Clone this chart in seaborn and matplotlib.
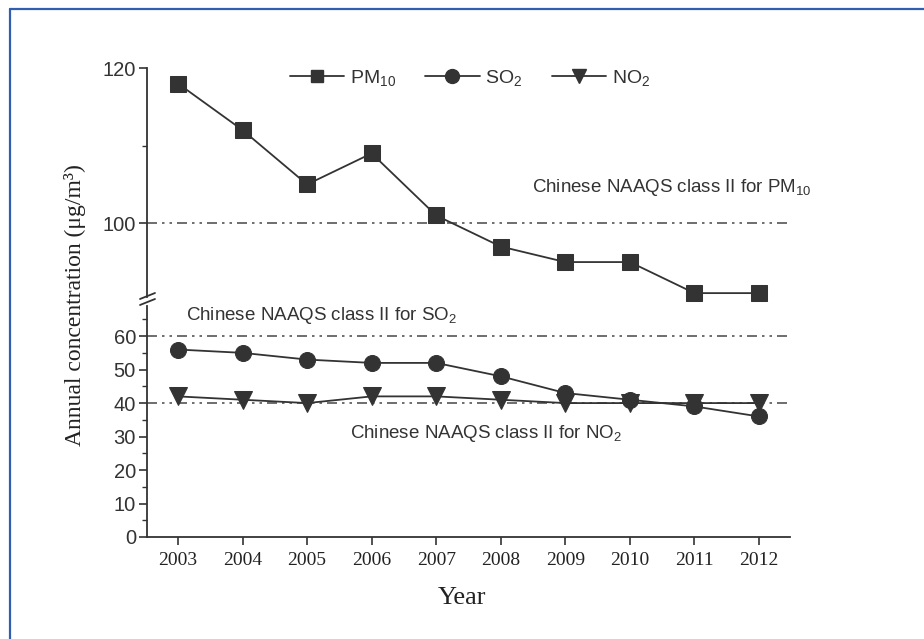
import matplotlib
matplotlib.use("Agg")
import matplotlib.pyplot as plt
from matplotlib.lines import Line2D
import numpy as np
import pandas as pd
import seaborn as sns

years = [2003, 2004, 2005, 2006, 2007, 2008, 2009, 2010, 2011, 2012]
pm10 = [118, 112, 105, 109, 101, 97, 95, 95, 91, 91]
so2 = [56, 55, 53, 52, 52, 48, 43, 41, 39, 36]
no2 = [42, 41, 40, 42, 42, 41, 40, 40, 40, 40]
std_pm10 = 100
std_so2 = 60
std_no2 = 40
upper_ticks = [100, 120]
lower_ticks = [0, 10, 20, 30, 40, 50, 60]

sns.set_theme(style="white")
plt.rcParams['font.family'] = ['Liberation Sans Narrow', 'Liberation Sans', 'DejaVu Sans']
plt.rcParams['mathtext.fontset'] = 'custom'
plt.rcParams['mathtext.rm'] = 'Liberation Sans'
plt.rcParams['mathtext.it'] = 'Liberation Sans'
plt.rcParams['mathtext.default'] = 'rm'

W, H = 924, 639
fig = plt.figure(figsize=(W / 100, H / 100), dpi=100)

def fx(px):
    return px / W

def fy(py):
    return 1 - py / H

left, right = 147, 790
ax_top = fig.add_axes([fx(left), fy(297), fx(right - left), fy(68) - fy(297)])
ax_bot = fig.add_axes([fx(left), fy(537), fx(right - left), fy(306) - fy(537)])

ink = "#333333"
xlim = (2002.52, 2012.48)

df = pd.DataFrame({"year": years, "PM10": pm10, "SO2": so2, "NO2": no2})

sns.lineplot(data=df, x="year", y="PM10", ax=ax_top, color=ink, lw=1.3,
             marker="s", markersize=11.5, markeredgecolor=ink, markerfacecolor=ink)
sns.lineplot(data=df, x="year", y="SO2", ax=ax_bot, color=ink, lw=1.3,
             marker="o", markersize=11.5, markeredgecolor=ink, markerfacecolor=ink)
sns.lineplot(data=df, x="year", y="NO2", ax=ax_bot, color=ink, lw=1.3,
             marker="v", markersize=12.5, markeredgecolor=ink, markerfacecolor=ink)
for ax in (ax_top, ax_bot):
    for ln in ax.lines:
        ln.set_clip_on(False)
        ln.set_zorder(5)

dash = (0, (6, 3, 1.5, 3, 1.5, 3))
ax_top.axhline(std_pm10, color="#555555", lw=1.2, ls=dash, zorder=2)
ax_bot.axhline(std_so2, color="#555555", lw=1.2, ls=dash, zorder=2)
ax_bot.axhline(std_no2, color="#555555", lw=1.2, ls=dash, zorder=2)

ax_top.set_xlim(*xlim)
ax_bot.set_xlim(*xlim)
ax_top.set_ylim(90.5, 120)
ax_bot.set_ylim(0, 69)

for ax in (ax_top, ax_bot):
    ax.set_facecolor("none")
    for s in ["top", "right"]:
        ax.spines[s].set_visible(False)
    ax.spines["left"].set_color(ink)
    ax.spines["left"].set_linewidth(1.3)
    ax.set_xlabel("")
    ax.set_ylabel("")

ax_top.spines["bottom"].set_visible(False)
ax_bot.spines["bottom"].set_color(ink)
ax_bot.spines["bottom"].set_linewidth(1.3)

ax_top.set_xticks([])
ax_top.set_yticks(upper_ticks)
ax_top.set_yticks([110], minor=True)
ax_top.set_yticklabels([str(t) for t in upper_ticks])
ax_bot.set_yticks(lower_ticks)
ax_bot.set_yticks([5, 15, 25, 35, 45, 55, 65], minor=True)
ax_bot.set_yticklabels([str(t) for t in lower_ticks])
ax_bot.set_xticks(years)
ax_bot.set_xticklabels([str(y) for y in years], fontfamily=["Liberation Serif"], fontsize=14)

for ax in (ax_top, ax_bot):
    ax.tick_params(axis="y", which="major", direction="out", length=6, width=1.2,
                   color=ink, labelsize=14.5, labelcolor=ink, pad=2, left=True)
    ax.tick_params(axis="y", which="minor", direction="out", length=3.5, width=1.0,
                   color=ink, left=True)
ax_bot.tick_params(axis="x", which="major", direction="out", length=6, width=1.2,
                   color=ink, labelcolor="#222222", pad=5, bottom=True)

# break marks
for py in (296, 302):
    fig.add_artist(Line2D([fx(140), fx(155)], [fy(py + 3), fy(py - 3)],
                          color=ink, lw=1.3, transform=fig.transFigure))

# annotations
txt_kw = dict(fontsize=13.5, color="#333333", ha="left", va="center")
ax_top.text(2008.48, 104.6, "Chinese NAAQS class II for PM$_{10}$", **txt_kw)
ax_bot.text(2003.12, 66.3, "Chinese NAAQS class II for SO$_2$", **txt_kw)
ax_bot.text(2005.66, 31.0, "Chinese NAAQS class II for NO$_2$", **txt_kw)

# legend
handles = [
    Line2D([], [], color=ink, lw=1.3, marker="s", markersize=9, markerfacecolor=ink, markeredgecolor=ink),
    Line2D([], [], color=ink, lw=1.3, marker="o", markersize=10, markerfacecolor=ink, markeredgecolor=ink),
    Line2D([], [], color=ink, lw=1.3, marker="v", markersize=10, markerfacecolor=ink, markeredgecolor=ink),
]
fig.legend(handles, ["PM$_{10}$", "SO$_2$", "NO$_2$"], loc="center",
           bbox_to_anchor=(fx(470), fy(78)), ncol=3, frameon=False,
           fontsize=14, handlelength=2.8, handletextpad=0.3, columnspacing=1.5,
           labelcolor="#333333")

# axis labels
fig.text(fx(75), fy(305), "Annual concentration (\u03bcg/m\u00b3)", rotation=90,
         ha="center", va="center", fontsize=17, fontfamily=["Liberation Serif"], color="#222222")
fig.text(fx(462), fy(598), "Year", ha="center", va="center", fontsize=19,
         fontfamily=["Liberation Serif"], color="#222222")

# outer frame (left and top visible)
frame = "#2f5fae"
fig.add_artist(Line2D([fx(10), fx(10)], [fy(9), 0], color=frame, lw=1.6, transform=fig.transFigure))
fig.add_artist(Line2D([fx(10), 1], [fy(9), fy(9)], color=frame, lw=1.6, transform=fig.transFigure))

fig.savefig("out.png", dpi=100)
